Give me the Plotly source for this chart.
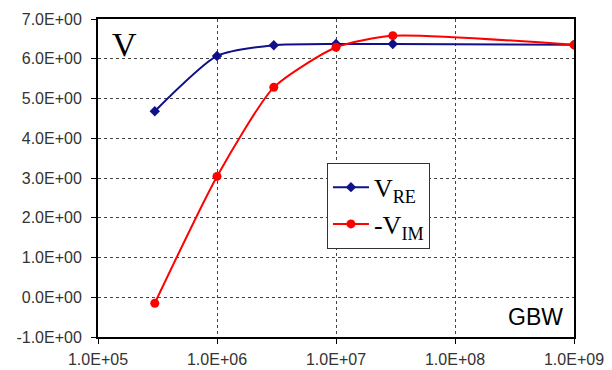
import plotly.graph_objects as go

gbw = [3e5, 1e6, 3e6, 1e7, 3e7, 1e9]
v_re = [4.68, 6.07, 6.34, 6.37, 6.37, 6.35]
v_im = [-0.15, 3.04, 5.28, 6.29, 6.58, 6.35]

x_ticks = [1e5, 1e6, 1e7, 1e8, 1e9]
x_ticktext = ["1.0E+05", "1.0E+06", "1.0E+07", "1.0E+08", "1.0E+09"]
y_ticks = [-1, 0, 1, 2, 3, 4, 5, 6, 7]
y_ticktext = ["-1.0E+00", "0.0E+00", "1.0E+00", "2.0E+00", "3.0E+00",
              "4.0E+00", "5.0E+00", "6.0E+00", "7.0E+00"]

fig = go.Figure()
fig.add_trace(go.Scatter(
    x=gbw, y=v_re, mode="lines+markers", name="V<sub>RE</sub>",
    line=dict(color="#10108a", width=2, shape="spline", smoothing=0.6),
    marker=dict(symbol="diamond", size=8, color="#10108a"),
))
fig.add_trace(go.Scatter(
    x=gbw, y=v_im, mode="lines+markers", name="-V<sub>IM</sub>",
    line=dict(color="#ff0000", width=2, shape="spline", smoothing=0.6),
    marker=dict(symbol="circle", size=9, color="#ff0000"),
))

fig.update_layout(
    width=612, height=370,
    margin=dict(l=98, r=38, t=19, b=33, autoexpand=False),
    paper_bgcolor="white", plot_bgcolor="white",
    font=dict(family="Arial, Liberation Sans", size=16, color="#333333"),
    legend=dict(
        x=0.481, y=0.548, xanchor="left", yanchor="top",
        bgcolor="white", bordercolor="#333333", borderwidth=1,
        font=dict(family="Liberation Serif, Times New Roman", size=26, color="black"),
        tracegroupgap=0, itemwidth=36,
    ),
    showlegend=True,
)
axis_common = dict(
    showgrid=True, gridcolor="#444444", griddash="dot", gridwidth=1,
    showline=True, linecolor="black", linewidth=2, mirror=True,
    ticks="outside", ticklen=5, tickcolor="black",
    tickfont=dict(family="Arial, Liberation Sans", size=16, color="#333333"),
    zeroline=False, automargin=False,
)
fig.update_xaxes(type="log", range=[5, 9], tickvals=x_ticks, ticktext=x_ticktext,
                 ticklabelstandoff=2, **axis_common)
fig.update_yaxes(range=[-1, 7], tickvals=y_ticks, ticktext=y_ticktext,
                 ticklabelstandoff=6, **axis_common)
fig.add_annotation(
    x=0.025, y=0.985, xref="paper", yref="paper", xanchor="left", yanchor="top",
    text="V", showarrow=False,
    font=dict(family="Liberation Serif, Times New Roman", size=34, color="black"),
)
fig.add_annotation(
    x=0.982, y=0.015, xref="paper", yref="paper", xanchor="right", yanchor="bottom",
    text="GBW", showarrow=False,
    font=dict(family="Arial, Liberation Sans", size=23, color="black"),
)

fig.write_html("out.html")
